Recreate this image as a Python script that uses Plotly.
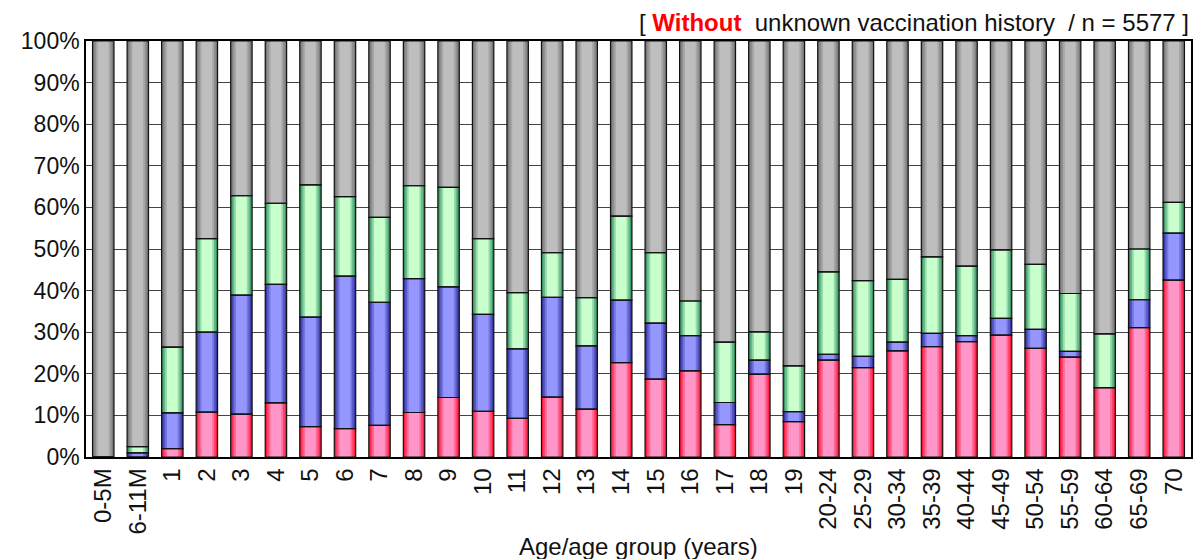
import plotly.graph_objects as go

categories = ["0-5M", "6-11M", "1", "2", "3", "4", "5", "6", "7", "8", "9", "10",
              "11", "12", "13", "14", "15", "16", "17", "18", "19",
              "20-24", "25-29", "30-34", "35-39", "40-44", "45-49", "50-54",
              "55-59", "60-64", "65-69", "70"]

red = [0, 0, 2.0, 10.8, 10.3, 13.0, 7.3, 6.8, 7.6, 10.7, 14.3, 11.0, 9.3, 14.4, 11.5,
       22.7, 18.7, 20.7, 7.8, 19.9, 8.5, 23.3, 21.5, 25.5, 26.5, 27.7, 29.3, 26.1,
       24.0, 16.7, 31.1, 42.5]
blue = [0, 1.0, 8.6, 19.2, 28.6, 28.5, 26.3, 36.7, 29.6, 32.2, 26.6, 23.3, 16.7, 24.0,
        15.2, 15.0, 13.5, 8.5, 5.3, 3.4, 2.4, 1.4, 2.7, 2.1, 3.2, 1.5, 4.0, 4.6, 1.4,
        0.0, 6.7, 11.3]
green = [0, 1.5, 15.8, 22.5, 23.9, 19.5, 31.8, 19.1, 20.4, 22.3, 23.9, 18.2, 13.5, 10.7,
         11.6, 20.2, 16.9, 8.3, 14.5, 6.8, 11.0, 19.8, 18.2, 15.1, 18.4, 16.7, 16.5,
         15.6, 13.9, 12.9, 12.2, 7.4]
gray = [round(100 - r - b - g, 1) for r, b, g in zip(red, blue, green)]

series = [
    ("red", red, (255, 25, 60), (255, 150, 200)),
    ("blue", blue, (55, 55, 165), (150, 150, 255)),
    ("green", green, (55, 150, 100), (200, 255, 205)),
    ("gray", gray, (120, 120, 120), (190, 190, 190)),
]

FONT = "Liberation Sans, Arial, sans-serif"
BAR_W = 0.62
N_LAYERS = 6

fig = go.Figure()

bases = []
cum = [0.0] * len(categories)
for name, vals, edge, center in series:
    base = list(cum)
    bases.append(base)
    for k in range(N_LAYERS):
        t = min(1.0, k / 3)
        col = tuple(int(round(e + (c - e) * t)) for e, c in zip(edge, center))
        w = BAR_W * (1 - k / N_LAYERS)
        fig.add_trace(go.Bar(
            x=categories, y=vals, base=base, width=w,
            marker=dict(color="rgb(%d,%d,%d)" % col, line=dict(width=0)),
            showlegend=False, hoverinfo="skip", name=name,
        ))
    cum = [a + v for a, v in zip(cum, vals)]

for (name, vals, edge, center), base in zip(series, bases):
    fig.add_trace(go.Bar(
        x=categories, y=vals, base=base, width=BAR_W,
        marker=dict(color="rgba(0,0,0,0)", line=dict(width=1.2, color="#111")),
        showlegend=False, name=name,
    ))

fig.update_layout(
    width=1196, height=559,
    barmode="overlay",
    plot_bgcolor="white", paper_bgcolor="white",
    margin=dict(l=86, r=3, t=41, b=102),
    font=dict(family=FONT, size=23, color="#111"),
    xaxis=dict(
        type="category", range=[-0.5, len(categories) - 0.5],
        tickangle=-90, showline=True, linecolor="#000", linewidth=1.5, mirror=True,
        ticks="", showgrid=False, tickfont=dict(size=24),
    ),
    yaxis=dict(
        range=[0, 100], dtick=10, ticksuffix="%", showline=True, linecolor="#000",
        linewidth=1.5, mirror=True, showgrid=True, gridcolor="#444", gridwidth=1,
        ticks="", tickfont=dict(size=23), zeroline=False,
    ),
    annotations=[
        dict(
            text="[ <b><span style='color:#ff0000'>Without</span></b>&nbsp; unknown vaccination history&nbsp; / n = 5577 ]",
            xref="paper", yref="paper", x=1.0, y=1.0, xanchor="right", yanchor="bottom",
            yshift=3, showarrow=False, font=dict(size=24, color="#111"),
        ),
        dict(
            text="Age/age group (years)", xref="paper", yref="paper", x=0.5, y=0,
            xanchor="center", yanchor="middle", yshift=-89, showarrow=False,
            font=dict(size=24, color="#111"),
        ),
    ],
)

fig.write_html("out.html", config={"displayModeBar": False},
               post_script="document.body.style.margin='0';document.body.style.overflow='hidden';")
